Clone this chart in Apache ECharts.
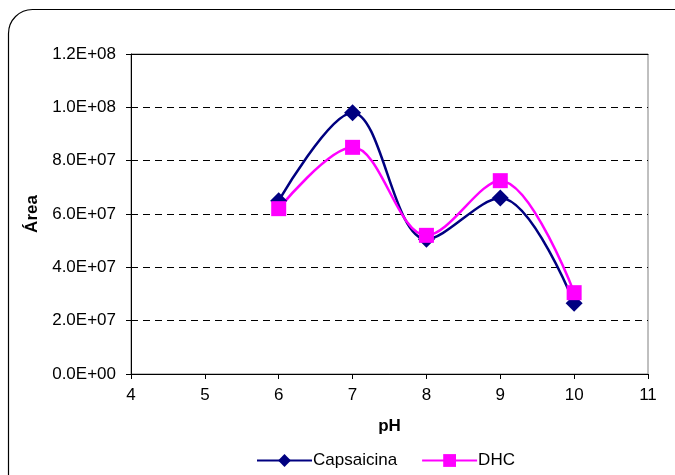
<!DOCTYPE html>
<html><head><meta charset="utf-8">
<script src="https://cdn.jsdelivr.net/npm/echarts@6/dist/echarts.min.js"></script>
<style>html,body{margin:0;padding:0;background:#fff}#c{width:675px;height:475px}</style>
</head><body><div id="c"></div>
<script>
const phValues = [6, 7, 8, 9, 10];
const capsaicina = [6.5e7, 9.8e7, 5.05e7, 6.6e7, 2.65e7];
const dhc = [6.2e7, 8.5e7, 5.2e7, 7.25e7, 3.05e7];
const seriesNames = ['Capsaicina', 'DHC'];

function sci(v) {
  const s = Number(v).toExponential(1);
  const m = s.split('e');
  const sign = m[1][0] === '-' ? '-' : '+';
  let e = m[1].replace('+', '').replace('-', '');
  if (e.length < 2) e = '0' + e;
  return m[0] + 'E' + sign + e;
}
const font = 'Liberation Sans, Arial, sans-serif';
const chart = echarts.init(document.getElementById('c'), null, {renderer: 'canvas'});
chart.setOption({
  animation: false,
  textStyle: {fontFamily: font},
  graphic: [{
    type: 'rect', shape: {x: 8.5, y: 9.5, width: 690, height: 490, r: 24},
    style: {fill: 'none', stroke: '#000', lineWidth: 1.2}, z: -1
  }],
  grid: {left: 131, right: 27, top: 54, bottom: 101, show: true, borderColor: '#808080', borderWidth: 1},
  legend: {
    bottom: 1, left: 251, itemWidth: 55, itemHeight: 16, itemGap: 24,
    textStyle: {fontFamily: font, fontSize: 17, color: '#000', padding: [0, 0, 0, -4]},
    data: seriesNames
  },
  xAxis: [{
    type: 'value', min: 4, max: 11, interval: 1,
    name: 'pH', nameLocation: 'middle', nameGap: 44,
    nameTextStyle: {fontFamily: font, fontSize: 17, fontWeight: 'bold', color: '#000'},
    axisLine: {show: true, lineStyle: {color: '#000', width: 1}},
    axisTick: {show: true, length: 5, lineStyle: {color: '#000'}},
    axisLabel: {fontFamily: font, fontSize: 17, color: '#000', margin: 13},
    splitLine: {show: false}
  }, {
    type: 'value', min: 4, max: 11, position: 'top',
    axisLine: {show: true, onZero: false, lineStyle: {color: '#000', width: 1}},
    axisTick: {show: false}, axisLabel: {show: false}, splitLine: {show: false}
  }],
  yAxis: {
    type: 'value', min: 0, max: 1.2e8, interval: 2e7,
    name: 'Área', nameLocation: 'middle', nameGap: 86, nameRotate: 90,
    nameTextStyle: {fontFamily: font, fontSize: 17, fontWeight: 'bold', color: '#000'},
    axisLine: {show: true, lineStyle: {color: '#000', width: 1}},
    axisTick: {show: true, length: 5, lineStyle: {color: '#000'}},
    axisLabel: {fontFamily: font, fontSize: 17, color: '#000', margin: 15, formatter: sci},
    splitLine: {show: true, lineStyle: {color: '#000', type: [7, 5], width: 1}}
  },
  series: [{
    name: seriesNames[0], type: 'line', smooth: 0.35,
    data: phValues.map((x, i) => [x, capsaicina[i]]),
    symbol: 'diamond', symbolSize: 17,
    lineStyle: {color: '#000080', width: 2.5},
    itemStyle: {color: '#000080'}
  }, {
    name: seriesNames[1], type: 'line', smooth: 0.35,
    data: phValues.map((x, i) => [x, dhc[i]]),
    symbol: 'rect', symbolSize: 15,
    lineStyle: {color: '#FF00FF', width: 2.5},
    itemStyle: {color: '#FF00FF'}
  }]
});
</script></body></html>
